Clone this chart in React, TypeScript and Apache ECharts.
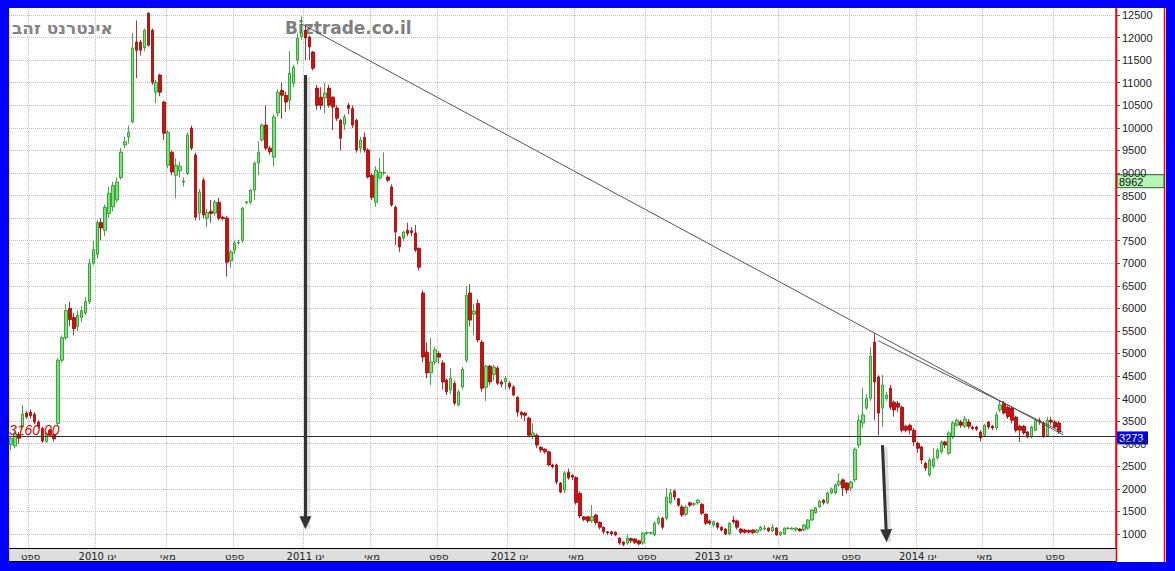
import React, { useEffect, useRef } from "react";
import * as echarts from "echarts";

// ---------- data ----------
const START_DATE_UTC = Date.UTC(2009, 6, 31);
const WEEK_COUNT = 282;
const MONTH_NAMES: Record<number, string> = { 0: "ינו", 4: "מאי", 8: "ספט" };
const Y_TICKS = [1000, 1500, 2000, 2500, 3000, 3500, 4000, 4500, 5000, 5500, 6000, 6500, 7000, 7500, 8000, 8500, 9000, 9500, 10000, 10500, 11000, 11500, 12000, 12500];

const TITLE = "אינטרנט זהב";
const WATERMARK = "Biztrade.co.il";
const LAST_PRICE = 3273;
const MARKER_PRICE = 8962;
const SUPPORT_LEVEL = 3160;

// [open, close, low, high]
const candles2009: number[][] = [
  [2980, 3120, 2850, 3150], [2950, 3230, 2900, 3280], [3200, 3120, 3000, 3260], [3370, 3660, 3330, 3860],
  [3680, 3600, 3550, 3720], [3700, 3620, 3560, 3760], [3650, 3480, 3430, 3700], [3480, 3380, 3330, 3520],
  [3340, 3060, 3020, 3380], [3050, 3220, 3020, 3260], [3300, 3190, 3150, 3330], [3200, 3110, 3050, 3230],
  [3450, 4850, 3400, 4900], [4850, 5350, 4800, 5400], [5350, 5950, 5300, 6100], [6000, 5750, 5600, 6150],
  [5800, 5550, 5400, 5900], [5600, 5850, 5500, 5950], [5800, 5950, 5700, 6050], [5900, 6150, 5850, 6250],
  [6150, 7000, 6100, 7100], [7000, 7300, 6950, 7500],
];
const candles2010a: number[][] = [
  [7200, 7900, 7100, 7950], [7900, 7780, 7510, 8000], [7730, 8240, 7600, 8300], [8100, 8550, 8000, 8700],
  [8250, 8720, 8150, 8800], [8400, 8800, 8350, 8900], [8900, 9460, 8850, 9550], [9620, 9690, 9550, 9800],
  [9800, 9900, 9650, 10050], [10130, 11770, 10100, 12100], [11900, 11720, 11100, 12380], [11900, 11720, 11600, 11950],
  [11780, 12160, 11700, 12200], [12540, 11830, 11800, 12560], [12160, 11010, 10950, 12200], [10790, 11010, 10550, 11060],
  [11170, 10790, 10700, 11200], [10570, 9880, 9730, 10600], [9170, 9900, 9100, 9950], [9460, 9020, 8950, 9500],
  [8950, 9170, 8440, 9330], [9050, 9150, 8900, 9250], [8800, 8820, 8700, 8900], [8990, 9840, 8950, 9900],
  [9990, 9550, 9500, 10050], [9400, 8020, 7950, 9450], [8110, 8580, 7950, 8650], [8840, 8070, 8000, 8900],
  [8000, 8130, 7800, 8200], [8150, 8100, 7900, 8400], [8110, 8350, 8050, 8400], [8350, 8000, 7950, 8450],
  [8020, 7990, 7950, 8050], [8000, 7020, 6700, 8050],
];
const candles2010b: number[][] = [
  [7050, 7250, 6900, 7300], [7290, 7450, 7200, 7500], [7450, 7460, 7400, 7520], [7510, 8220, 7450, 8250],
  [8340, 8360, 8300, 8380], [8350, 8620, 8300, 8650], [8620, 9220, 8400, 9250], [9220, 9460, 8950, 9700],
  [9730, 10060, 9700, 10100], [10060, 9550, 9500, 10500], [9550, 9470, 9400, 9600], [9350, 10240, 9150, 10300],
  [10330, 10790, 10250, 10850], [10830, 10720, 10200, 11000], [10720, 10570, 10350, 10800], [10610, 11210, 10400, 11700],
  [10990, 11340, 10900, 11400], [11500, 11990, 11400, 12100], [12020, 12120, 11950, 12470], [12160, 11990, 11500, 12250],
  [12010, 11790, 11500, 12050], [11680, 11320, 11270, 11700], [10880, 10500, 10400, 10950], [10680, 10500, 10400, 10900],
  [10660, 10770, 10320, 11000], [10880, 10500, 10450, 10950], [10680, 10460, 9950, 10700], [10440, 10210, 10150, 10500],
  [10170, 9770, 9500, 10200], [10080, 10240, 9950, 10300], [10500, 10430, 10300, 10550], [10430, 10060, 10000, 10500],
  [10170, 9510, 9450, 10200], [9550, 9730, 9450, 9800], [9790, 9510, 9450, 9900], [9510, 8910, 8880, 9550],
  [8950, 8460, 8400, 9000], [8350, 9060, 8250, 9150], [8890, 9020, 8850, 9330], [9000, 9010, 8950, 9460],
  [8910, 8840, 8800, 8950], [8690, 8290, 8250, 8750], [8240, 7690, 7400, 8280], [7580, 7360, 7250, 7600],
  [7560, 7690, 7500, 7720], [7730, 7660, 7600, 7900], [7720, 7680, 7600, 7800], [7670, 7290, 7250, 7850],
  [7330, 6910, 6840, 7350],
];
const candles2011: number[][] = [
  [6340, 4920, 4800, 6400], [5030, 4570, 4450, 5250], [4570, 4810, 4300, 5340], [4810, 5080, 4750, 5150],
  [5000, 4920, 4780, 5050], [4790, 4370, 4200, 4850], [4410, 4150, 4080, 4450], [4190, 4450, 4100, 4680],
  [4340, 3900, 3850, 4400], [3860, 4150, 3830, 4200], [4260, 4650, 4200, 4700], [4850, 6290, 4800, 6490],
  [6340, 5740, 5600, 6540], [5870, 5940, 5400, 6100], [6110, 5300, 5250, 6200], [5250, 4230, 4150, 5300],
  [4250, 4720, 3950, 4750], [4720, 4370, 4300, 4750], [4530, 4700, 4400, 4750], [4680, 4340, 4300, 4720],
  [4370, 4320, 4250, 4420], [4370, 4450, 4200, 4500], [4340, 4260, 4200, 4380], [4260, 4080, 4050, 4300],
  [4030, 3700, 3600, 4050], [3700, 3640, 3550, 3720], [3680, 3630, 3500, 3700], [3570, 3190, 3150, 3600],
  [3170, 3240, 3100, 3450], [3190, 2970, 2900, 3230], [2920, 2860, 2800, 2950], [2880, 2820, 2780, 2900],
  [2820, 2530, 2500, 2850], [2530, 2490, 2450, 2560], [2530, 2150, 2100, 2560], [2130, 1930, 1900, 2150],
  [1975, 2350, 1900, 2400], [2370, 2240, 2200, 2450], [2300, 2260, 2200, 2320], [2250, 1700, 1650, 2280],
  [1900, 1400, 1350, 1950], [1380, 1320, 1280, 1400], [1380, 1290, 1250, 1400], [1290, 1390, 1250, 1640],
  [1420, 1250, 1200, 1450], [1260, 1150, 1100, 1280], [1150, 1050, 1000, 1170], [1050, 1020, 980, 1070],
  [1050, 1000, 960, 1070], [1040, 980, 950, 1060],
];
const candles2012: number[][] = [
  [910, 800, 760, 930], [820, 770, 730, 840], [800, 910, 760, 1000], [900, 850, 800, 920],
  [890, 810, 780, 910], [850, 780, 750, 870], [800, 1020, 760, 1050], [1020, 1030, 980, 1060],
  [1020, 1030, 990, 1050], [980, 1240, 950, 1280], [1240, 1350, 1200, 1400], [1350, 1150, 1100, 1380],
  [1350, 1820, 1300, 2020], [1690, 1910, 1650, 2000], [1950, 1820, 1750, 1990], [1780, 1640, 1600, 1800],
  [1600, 1420, 1380, 1650], [1440, 1600, 1400, 1640], [1690, 1640, 1600, 1720], [1660, 1670, 1620, 1700],
  [1690, 1750, 1650, 1780], [1660, 1460, 1420, 1680], [1440, 1240, 1200, 1460], [1290, 1240, 1200, 1320],
  [1200, 1270, 1150, 1300], [1240, 1150, 1100, 1260], [1150, 1090, 1050, 1170], [1110, 1000, 970, 1130],
  [1000, 1240, 970, 1260], [1310, 1270, 1230, 1400], [1290, 1150, 1100, 1320], [1110, 1040, 1000, 1130],
  [1090, 1040, 1010, 1110], [1080, 1040, 1010, 1100], [1090, 1030, 1000, 1100], [1040, 1090, 1020, 1110],
  [1090, 1150, 1060, 1180], [1110, 1130, 1080, 1200], [1130, 1070, 1040, 1150], [1070, 1150, 1040, 1220],
  [1130, 980, 960, 1150], [980, 1040, 960, 1060], [1000, 1130, 980, 1150], [1120, 1130, 1100, 1160],
  [1110, 1130, 1100, 1150], [1090, 1130, 1070, 1150], [1110, 1070, 1050, 1130], [1090, 1200, 1060, 1220],
  [1130, 1310, 1100, 1330], [1310, 1530, 1290, 1550], [1470, 1580, 1450, 1600], [1600, 1730, 1580, 1750],
  [1750, 1690, 1650, 1780], [1690, 1910, 1660, 1940], [1910, 2000, 1880, 2030], [1910, 2090, 1880, 2120],
  [2090, 2170, 2050, 2350], [2200, 2020, 1840, 2230], [2130, 1975, 1900, 2150], [2020, 2150, 1950, 2180],
];
const candles2013: number[][] = [
  [2200, 2880, 2150, 2920], [2970, 3520, 2900, 3640], [3460, 3640, 3350, 4230], [3790, 4010, 3750, 4100],
  [4010, 4940, 3950, 5140], [5250, 4370, 3520, 5450], [4480, 3680, 3190, 4520], [3790, 4300, 3370, 4520],
  [4000, 4080, 3950, 4150], [4230, 3810, 3750, 4300], [3920, 3750, 3600, 3960], [3900, 3810, 3700, 3950],
  [3810, 3300, 3250, 3850], [3390, 3300, 3250, 3420], [3410, 3300, 3200, 3450], [3300, 3040, 2950, 3350],
  [3010, 2900, 2800, 3050], [2930, 2640, 2550, 2950], [2570, 2460, 2400, 2600], [2310, 2640, 2280, 2700],
  [2500, 2670, 2450, 2900], [2690, 2860, 2650, 2900], [2820, 3040, 2780, 3080], [3040, 2970, 2900, 3060],
  [2790, 3240, 2750, 3280], [3150, 3460, 3100, 3500], [3410, 3520, 3380, 3560], [3480, 3410, 3350, 3530],
  [3390, 3550, 3350, 3620], [3480, 3390, 3330, 3550], [3370, 3340, 3300, 3400], [3370, 3320, 3280, 3400],
  [3260, 3130, 3050, 3300], [3190, 3410, 3150, 3440], [3480, 3370, 3320, 3500], [3390, 3350, 3300, 3420],
  [3350, 3640, 3300, 3700], [3750, 3860, 3700, 3950], [3900, 3680, 3650, 3950], [3810, 3600, 3550, 3850],
  [3790, 3520, 3450, 3820], [3590, 3300, 3250, 3620], [3390, 3300, 3040, 3420], [3390, 3240, 3200, 3420],
  [3260, 3150, 3120, 3280], [3150, 3370, 3120, 3400], [3300, 3520, 3280, 3560], [3520, 3480, 3420, 3580],
  [3460, 3170, 3130, 3500], [3170, 3520, 3150, 3600], [3520, 3480, 3420, 3600], [3480, 3370, 3330, 3520],
  [3460, 3260, 3220, 3500],
];

// trend lines / arrows in [week index, price]
const trendLineMain = [[74, 12300], [268, 3200]];
const trendLineSecond = [[221, 5280], [268, 3250]];
const arrowOne = [[75, 11170], [75, 1250]];
const arrowTwo = [[222, 2970], [223, 960]];

// ---------- helpers ----------
const dates = Array.from({ length: WEEK_COUNT }, (_, i) => new Date(START_DATE_UTC + i * 7 * 86400000));
const categories = dates.map((d) => d.toISOString().slice(0, 10));
function labelFor(i: number): string | null {
  if (i <= 0) return null;
  const d = dates[i];
  const p = dates[i - 1];
  if (d.getUTCMonth() === p.getUTCMonth()) return null;
  const m = d.getUTCMonth();
  if (!(m in MONTH_NAMES)) return null;
  return m === 0 ? `${d.getUTCFullYear()} ${MONTH_NAMES[m]}` : MONTH_NAMES[m];
}

const allCandles = [...candles2009, ...candles2010a, ...candles2010b, ...candles2011, ...candles2012, ...candles2013];

const GRID = { left: 9, right: 59, top: 9, bottom: 23 };
const Y_MIN = 690;
const Y_MAX = 12633;

export default function App() {
  const ref = useRef<HTMLDivElement>(null);
  useEffect(() => {
    const chart = echarts.init(ref.current!, null, { renderer: "svg" });
    const lineStyleThin = { color: "#555", width: 1, type: "solid" as const };
    const arrowStyle = { color: "#333", width: 3, type: "solid" as const };
    chart.setOption({
      animation: false,
      backgroundColor: "#ffffff",
      textStyle: { fontFamily: "DejaVu Sans" },
      grid: { ...GRID, containLabel: false },
      xAxis: {
        type: "category",
        data: categories,
        boundaryGap: true,
        axisLine: { show: true, lineStyle: { color: "#000", width: 1 } },
        axisTick: { show: false },
        axisLabel: {
          interval: (i: number) => labelFor(i) !== null,
          formatter: (_v: string, i: number) => labelFor(i) ?? "",
          color: "#222",
          fontSize: 10,
          fontFamily: "DejaVu Sans",
          margin: 3,
        },
        splitLine: {
          show: true,
          interval: (i: number) => labelFor(i) !== null,
          lineStyle: { color: "#c2c2c2", type: "dotted", width: 1 },
        },
      },
      yAxis: {
        type: "value",
        position: "right",
        min: Y_MIN,
        max: Y_MAX,
        axisLine: { show: true, lineStyle: { color: "#ff0000", width: 1.5 } },
        axisTick: { show: true, length: 4, customValues: Y_TICKS, lineStyle: { color: "#555" } },
        axisLabel: {
          customValues: Y_TICKS,
          formatter: (v: number) => String(v),
          color: "#222",
          fontSize: 11,
          fontFamily: "Liberation Sans",
          margin: 6,
        },
        splitLine: { show: true, lineStyle: { color: "#c2c2c2", type: "dotted", width: 1 } },
      },
      series: [
        {
          type: "candlestick",
          data: allCandles,
          barWidth: 3,
          itemStyle: {
            color: "#7fe07f",
            color0: "#cc1111",
            borderColor: "#169616",
            borderColor0: "#a00000",
            borderWidth: 0.8,
          },
          markLine: {
            silent: true,
            symbol: ["none", "none"],
            label: { show: false },
            data: [
              [
                { coord: trendLineMain[0], lineStyle: lineStyleThin },
                { coord: trendLineMain[1] },
              ],
              [
                { coord: trendLineSecond[0], lineStyle: lineStyleThin },
                { coord: trendLineSecond[1] },
              ],
              {
                yAxis: SUPPORT_LEVEL,
                lineStyle: { color: "#333", width: 1, type: "solid" },
                label: {
                  show: true,
                  formatter: SUPPORT_LEVEL.toFixed(2),
                  position: "insideStartTop",
                  distance: 0,
                  color: "#e00000",
                  fontStyle: "italic",
                  fontSize: 14,
                  fontFamily: "Liberation Sans",
                },
              },
              [
                { coord: arrowOne[0], symbol: "none", lineStyle: arrowStyle },
                { coord: arrowOne[1], symbol: "triangle", symbolSize: [12, 13] },
              ],
              [
                { coord: arrowTwo[0], symbol: "none", lineStyle: arrowStyle },
                { coord: arrowTwo[1], symbol: "triangle", symbolSize: [12, 13] },
              ],
            ],
          },
        },
      ],
    });

    const yPix = (v: number) => chart.convertToPixel({ yAxisIndex: 0 }, v) as number;
    const pt = (c: number[]) => chart.convertToPixel({ seriesIndex: 0 }, c) as number[];
    const shadowOf = (a: number[][]) => {
      const p0 = pt(a[0]);
      const p1 = pt(a[1]);
      return {
        type: "line",
        shape: { x1: p0[0] + 3, y1: p0[1] + 2, x2: p1[0] + 3, y2: p1[1] + 6 },
        style: { stroke: "rgba(0,0,0,0.13)", lineWidth: 4 },
      };
    };
    const W = 1175;
    const H = 571;
    const plotRight = W - GRID.right;
    const plotBottom = H - GRID.bottom;
    const blue = "#0000fe";
    chart.setOption({
      graphic: {
        elements: [
          shadowOf(arrowOne),
          shadowOf(arrowTwo),
          { type: "rect", z: -1, shape: { x: GRID.left, y: plotBottom, width: plotRight - GRID.left, height: 14 }, style: { fill: "#dedede" } },
          { type: "line", shape: { x1: GRID.left, y1: plotBottom + 13.5, x2: plotRight, y2: plotBottom + 13.5 }, style: { stroke: "#000", lineWidth: 1 } },
          { type: "line", shape: { x1: plotRight + 0.5, y1: 8, x2: plotRight + 0.5, y2: 563 }, style: { stroke: "#ff0000", lineWidth: 1.5 } },
          { type: "line", shape: { x1: 1164.5, y1: 8, x2: 1164.5, y2: 563 }, style: { stroke: "#ff0000", lineWidth: 1.5 } },
          { type: "rect", shape: { x: 0, y: 0, width: W, height: 8 }, style: { fill: blue } },
          { type: "rect", shape: { x: 0, y: 0, width: 9, height: H }, style: { fill: blue } },
          { type: "rect", shape: { x: 0, y: 562, width: W, height: H - 562 }, style: { fill: blue } },
          { type: "rect", shape: { x: 1166, y: 0, width: W - 1166, height: H }, style: { fill: blue } },
          {
            type: "rect",
            shape: { x: plotRight + 1, y: yPix(MARKER_PRICE), width: 1164 - plotRight - 1, height: 13 },
            style: { fill: "#b6f5b6", stroke: "#2e5e2e", lineWidth: 1 },
          },
          {
            type: "text",
            x: plotRight + 3,
            y: yPix(MARKER_PRICE) + 7,
            style: { text: String(MARKER_PRICE), fill: "#111", font: "11px Liberation Sans", verticalAlign: "middle" },
          },
          {
            type: "rect",
            shape: { x: plotRight + 1, y: yPix(LAST_PRICE), width: 31, height: 13 },
            style: { fill: "#0000ee" },
          },
          {
            type: "text",
            x: plotRight + 3,
            y: yPix(LAST_PRICE) + 7,
            style: { text: String(LAST_PRICE), fill: "#fff", font: "11px Liberation Sans", verticalAlign: "middle" },
          },
          {
            type: "text",
            x: 12,
            y: 28,
            style: { text: TITLE, fill: "#858585", font: "bold 17px DejaVu Sans", verticalAlign: "middle" },
          },
          {
            type: "text",
            z: -1,
            x: 285,
            y: 28,
            style: { text: WATERMARK, fill: "#808080", font: "bold 17px DejaVu Sans", verticalAlign: "middle" },
          },
        ],
      },
    });
    return () => chart.dispose();
  }, []);
  return <div ref={ref} style={{ position: "fixed", left: 0, top: 0, width: 1175, height: 571 }} />;
}
